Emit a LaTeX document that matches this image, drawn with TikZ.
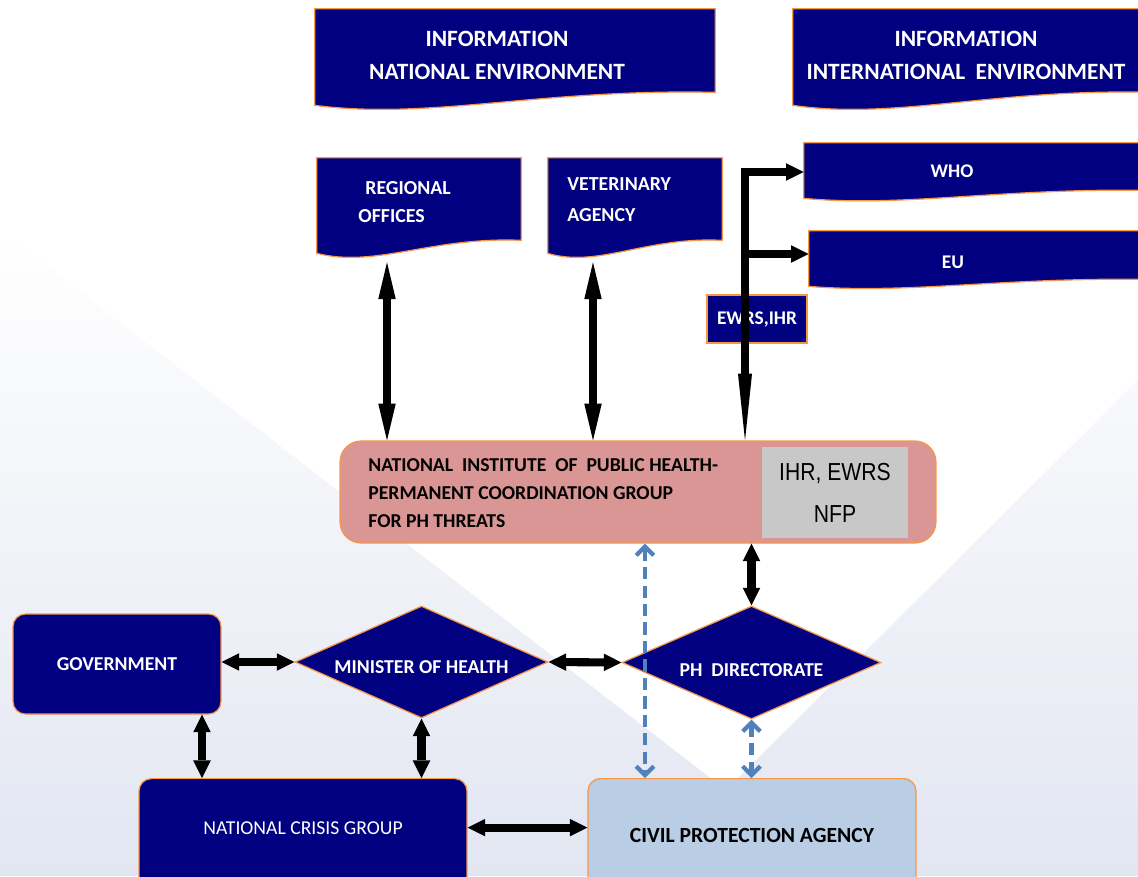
\documentclass[tikz,border=0pt]{standalone}
\usepackage{fontspec}
\setmainfont{Carlito}
\newfontfamily\narrowfont[FakeStretch=0.86]{Liberation Sans}
\usepackage{tikz}
\usetikzlibrary{shapes,arrows.meta,calc}

\definecolor{navy}{HTML}{000080}
\definecolor{borange}{HTML}{F79646}
\definecolor{niphpink}{HTML}{D99694}
\definecolor{nfpgray}{HTML}{C8C8C8}
\definecolor{cpablue}{HTML}{B9CDE5}
\definecolor{linkblue}{HTML}{4F81BD}
\definecolor{bggray}{HTML}{E2E6F1}

\newcommand{\headfont}{\fontsize{13.3}{18.7}\selectfont\bfseries}
\newcommand{\docfont}{\fontsize{11.3}{16}\selectfont\bfseries}
\newcommand{\smallfont}{\fontsize{11}{13}\selectfont\bfseries}
\newcommand{\niphfont}{\fontsize{11.2}{15.9}\selectfont\bfseries}
\newcommand{\nodefont}{\fontsize{11.2}{14}\selectfont\bfseries}
\newcommand{\lowered}[2]{\raisebox{-#1}[\height][\depth]{#2}}

\tikzstyle{docbox} = [draw=none, inner sep=0pt]
\tikzstyle{docshape} = [fill=navy, draw=borange, line width=0.7pt]
\tikzstyle{doctext} = [text=white, inner sep=0pt]
\tikzstyle{navybox} = [fill=navy, draw=borange, line width=0.7pt, text=white, inner sep=0pt]
\tikzstyle{roundbox} = [navybox, rounded corners=7pt]
\tikzstyle{decision} = [navybox, diamond, aspect=2.3]
\tikzstyle{bigarrow} = [line width=4.6pt, arrows={Triangle[length=10pt,width=10pt,line width=0pt]-Triangle[length=10pt,width=10pt,line width=0pt]}]
\tikzstyle{longarrow} = [line width=4.8pt, arrows={Triangle[length=21pt,width=10pt,line width=0pt]-Triangle[length=21pt,width=10pt,line width=0pt]}]
\tikzstyle{dasharrow} = [linkblue, line width=2.4pt, dash pattern=on 7pt off 3.5pt, arrows={Straight Barb[length=5pt,width=10pt]-Straight Barb[length=5pt,width=10pt]}]

% wavy bottom of a document box
\newcommand{\docwave}[2]{%
  \path[docshape] (#1.north west) -- (#1.north east) -- (#1.south east)
    .. controls ($(#1.south east)!0.44!(#1.south west)+(0,-0.3*#2)$)
    and ($(#1.south east)!0.71!(#1.south west)+(0,2.15*#2)$)
    .. ($(#1.south west)+(0,#2)$) -- cycle;}

\begin{document}
\begin{tikzpicture}[x=0.02cm,y=-0.02cm]

    \useasboundingbox (0,0) rectangle (1138,876);
    \clip (0,0) rectangle (1138,876);
    \fill[white] (0,0) rectangle (1138,876);
    \shade[top color=white, bottom color=bggray]
      (0,230) -- (726,790) -- (1138,380) -- (1138,876) -- (0,876) -- cycle;

    %===================== information
    \node[docbox, minimum width=8cm, minimum height=1.66cm] at (515,50.5) (natenv) {};
    \docwave{natenv}{13}
    \node[doctext, font=\headfont, align=center] at (497,55) (natenvtext) {INFORMATION\\NATIONAL ENVIRONMENT};

    \node[docbox, minimum width=7.14cm, minimum height=1.66cm] at (971.5,50.5) (intenv) {};
    \docwave{intenv}{13}
    \node[doctext, font=\headfont, align=center] at (966,55) (intenvtext) {INFORMATION\\INTERNATIONAL~~ENVIRONMENT};

    %===================== sources
    \node[docbox, minimum width=4.08cm, minimum height=1.64cm] at (419,199) (regoff) {};
    \docwave{regoff}{13}
    \node[doctext, font=\docfont, align=left, anchor=west] at (358,202) (regofftext) {\hspace*{4pt}REGIONAL\\OFFICES};

    \node[docbox, minimum width=3.48cm, minimum height=1.64cm] at (635,199) (vetag) {};
    \docwave{vetag}{13}
    \node[doctext, font=\fontsize{11.3}{17.6}\selectfont\bfseries, align=left, anchor=west] at (567,200) (vetagtext) {VETERINARY\\AGENCY};

    \node[docbox, minimum width=6.92cm, minimum height=0.94cm] at (977,166.5) (who) {};
    \docwave{who}{8}
    \node[doctext, font=\smallfont] at (952,171) (whotext) {WHO};

    \node[docbox, minimum width=6.82cm, minimum height=0.96cm] at (979.5,255) (eu) {};
    \docwave{eu}{7}
    \node[doctext, font=\smallfont] at (953,262) (eutext) {EU};

    \node[navybox, font=\smallfont, minimum width=2cm, minimum height=0.96cm] at (757,319) (ewrs) {EWRS,IHR};

    %===================== institute
    \node[navybox, fill=niphpink, rounded corners=12pt, minimum width=11.92cm, minimum height=2.04cm] at (638,492) (niph) {};
    \node[inner sep=0pt, font=\niphfont, align=left, anchor=west] at (368,493) (niphtext)
      {NATIONAL~~INSTITUTE~~OF~~PUBLIC HEALTH-\\PERMANENT COORDINATION GROUP\\FOR PH THREATS};
    \node[fill=nfpgray, inner sep=0pt, minimum width=2.92cm, minimum height=1.82cm, align=center,
      font=\narrowfont\fontsize{14}{23.8}\selectfont] at (835,492.5) (nfp) {IHR, EWRS\\NFP};

    %===================== national level
    \node[roundbox, font=\nodefont, minimum width=4.16cm, minimum height=2cm] at (117,664) (gov) {GOVERNMENT};
    \node[decision, font=\nodefont, minimum width=5.06cm, minimum height=2.24cm] at (421.5,662) (minh) {\lowered{0.1cm}{MINISTER OF HEALTH}};
    \node[decision, font=\nodefont, minimum width=5.18cm, minimum height=2.26cm] at (751.5,662.5) (phdir) {\lowered{0.15cm}{PH~~DIRECTORATE}};

    \node[roundbox, anchor=north, font=\fontsize{11.2}{14}\selectfont, minimum width=6.56cm,
      text height=1.12cm, text depth=1.28cm] at (303,778) (ncg) {NATIONAL CRISIS GROUP};
    \node[roundbox, fill=cpablue, text=black, anchor=north, font=\fontsize{12.3}{15}\selectfont\bfseries, minimum width=6.56cm,
      text height=1.28cm, text depth=1.12cm] at (752,778) (cpa) {CIVIL PROTECTION AGENCY};

    %===================== links
    \coordinate (regfoot) at ($(regoff.south)+(-32,22)$);
    \coordinate (vetfoot) at ($(vetag.south)+(-42,22)$);
    \coordinate (ewrscorner) at (745,172);
    \coordinate (eujoin) at (745,254);
    \coordinate (govfoot) at ($(gov.south)+(85,0)$);
    \coordinate (civlink) at ($(niph.south)+(7,0)$);

    \draw[longarrow] (regfoot) -- (regfoot |- niph.north);
    \draw[longarrow] (vetfoot) -- (vetfoot |- niph.north);

    \draw[line width=4.6pt, arrows={-Triangle[length=10pt,width=10pt,line width=0pt]}] (eujoin) -- (eujoin -| eu.west);
    \draw[line width=4.8pt, arrows={Triangle[length=10pt,width=10pt,line width=0pt]-Triangle[length=38pt,width=8pt,line width=0pt]}]
      (ewrscorner -| who.west) -- (ewrscorner) -- (ewrscorner |- niph.north);

    \draw[bigarrow] (phdir.north) -- (phdir.north |- niph.south);
    \draw[bigarrow] (gov.east |- minh.west) -- (minh.west);
    \draw[bigarrow] (minh.east) -- (phdir.west);
    \draw[bigarrow] (govfoot) -- (govfoot |- ncg.north);
    \draw[bigarrow] (minh.south) -- (minh.south |- ncg.north);
    \draw[bigarrow] ([yshift=0.22cm]ncg.east) -- ([yshift=0.22cm]cpa.west);

    \draw[dasharrow] (civlink) -- (civlink |- cpa.north);
    \draw[dasharrow] (phdir.south) -- (phdir.south |- cpa.north);

\end{tikzpicture}
\end{document}
